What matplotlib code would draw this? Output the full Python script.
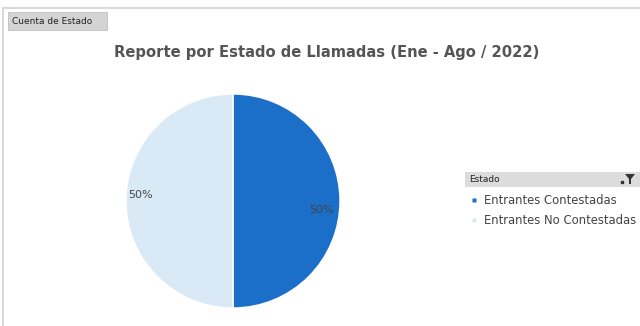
import matplotlib.pyplot as plt
from matplotlib.patches import Rectangle, Polygon

# ---------------data---------------
categorias = ['Entrantes Contestadas', 'Entrantes No Contestadas']
valores = [50, 50]
colores = ['#1b6fc9', '#dae9f6']
titulo = 'Reporte por Estado de Llamadas (Ene - Ago / 2022)'
campo = 'Cuenta de Estado'
leyenda_titulo = 'Estado'
# ----------------------------------

fig = plt.figure(figsize=(6.4, 3.26), dpi=100)

# background layer in pixel coordinates
bg = fig.add_axes([0, 0, 1, 1])
bg.set_xlim(0, 640)
bg.set_ylim(326, 0)
bg.axis('off')

# outer frame
bg.plot([3, 3], [8, 326], color='#d9d9d9', lw=1.5)
bg.plot([3, 640], [8, 8], color='#d9d9d9', lw=1.5)

# field button
bg.add_patch(Rectangle((8, 12), 99, 18, facecolor='#d4d4d4', edgecolor='#c0c0c0', lw=0.6))
bg.text(12, 21.5, campo, fontsize=6.5, color='#222222', va='center', ha='left')

bg.text(327, 53, titulo, fontsize=10.6, fontweight='bold', color='#555555',
        ha='center', va='center')

# legend header
bg.add_patch(Rectangle((465, 172), 175, 15, facecolor='#dcdcdc', edgecolor='none'))
bg.text(469, 179.5, leyenda_titulo, fontsize=6.5, color='#222222', va='center')
bg.add_patch(Polygon([[625, 174], [635, 174], [631, 179], [631, 184], [629, 184], [629, 179]],
                     closed=True, facecolor='#333333'))
bg.plot([622], [182], marker='s', ms=1.5, color='#333333')

for i, (cat, col) in enumerate(zip(categorias, colores)):
    y = 200 + i * 20
    bg.plot([474], [y], marker='s', ms=3, color=col, mec='none')
    bg.text(484, y, cat, fontsize=8.4, color='#444444', va='center', ha='left')

# pie
ax = fig.add_axes([126 / 640, 18 / 326, 214 / 640, 214 / 326])
wedges, texts, autotexts = ax.pie(valores, colors=colores, startangle=90, counterclock=False,
                                  autopct='%1.0f%%', pctdistance=0.84,
                                  wedgeprops=dict(edgecolor='white', linewidth=1),
                                  textprops=dict(fontsize=8, color='#444444'))
autotexts[0].set_position((0.83, -0.08))
autotexts[1].set_position((-0.86, 0.06))
ax.set_aspect('equal')
ax.set_xlim(-1, 1)
ax.set_ylim(-1, 1)

fig.savefig('out.png', dpi=100)
